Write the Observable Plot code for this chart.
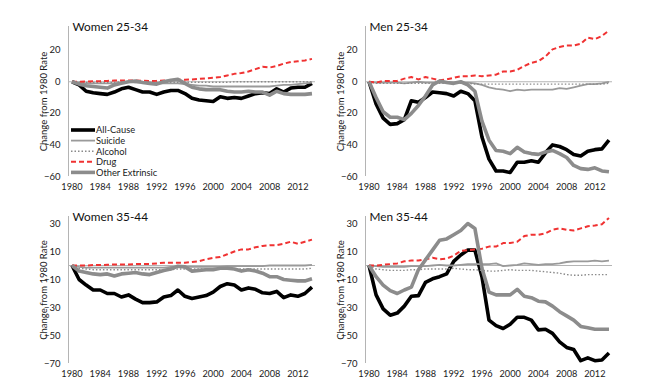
<!DOCTYPE html>
<html><head><meta charset="utf-8">
<script src="https://cdn.jsdelivr.net/npm/d3@7"></script>
<script src="https://cdn.jsdelivr.net/npm/@observablehq/plot@0.6"></script>
<style>
html,body{margin:0;padding:0;background:#fff;}
body{width:649px;height:388px;position:relative;overflow:hidden;font-family:Lato,"Open Sans",sans-serif;}
.panel{position:absolute;}
</style></head><body>
<script>
// ---------- DATA ----------
const years = d3.range(1980, 2015);
const xTickYears = [1980, 1984, 1988, 1992, 1996, 2000, 2004, 2008, 2012];
const seriesNames = ["All-Cause", "Suicide", "Alcohol", "Drug", "Other Extrinsic"];
const panelTitles = ["Women 25-34", "Men 25-34", "Women 35-44", "Men 35-44"];
const yTicks2534 = [-60, -40, -20, 0, 20];
const yTicks3544 = [-70, -50, -30, -10, 10, 30];
const yLabel = "Change from 1980 Rate";

// Women 25-34
const w2534_all = [0,-2,-6,-7,-7.5,-8,-6.5,-4.5,-3.5,-5,-6.5,-6.5,-8,-6.5,-5.5,-5.5,-7.5,-10.5,-11.5,-12,-12.5,-9.5,-10.5,-10,-10.5,-9,-7.5,-7,-7.5,-4.5,-6.5,-4,-3.5,-3.5,-1];
const w2534_suicide = [0,-0.5,-1,-1,-1,-1,-1,-0.5,0,-0.5,-0.5,-1,-1,-1,-1,-1,-1.5,-2,-2.5,-2.5,-3,-3,-3,-3,-3,-3,-3,-3,-3,-2.5,-2,-2,-1.5,-1,-0.5];
const w2534_alcohol = [0,-0.3,-0.5,-0.5,-0.5,-0.5,-0.3,0,0,0,0,-0.3,-0.3,-0.3,-0.3,-0.3,-0.3,-0.3,-0.3,-0.3,-0.3,-0.3,-0.3,0,0,0,0,0,0,0,0,0,0,0,0];
const w2534_drug = [0,0,0.2,0.3,0.4,0.5,0.8,0.8,0.8,0.8,0.6,0.5,0.6,0.8,1,1.2,1.3,1.5,1.8,2.2,2.5,3,4,5,5.5,6.5,8,9.5,9,10,11.5,12.5,13,13.5,14.5];
const w2534_other = [0,-1.5,-2.5,-3,-3.5,-4,-2,-1,0,0.5,-0.5,-1,-1.5,0,1,1.5,-1,-3.5,-4.5,-5,-5,-5,-6,-6.5,-6.5,-6,-6.5,-6.5,-8.5,-6,-7.5,-8,-8,-8,-7.5];

// Men 25-34
const m2534_all = [0,-14,-23,-27,-26.5,-24,-12,-13,-10,-6.5,-7,-7.5,-9,-6,-7.5,-12,-35,-49,-56.5,-56.5,-57.5,-51,-51,-50,-51,-45,-40,-41,-43,-46,-47,-44,-43,-42.5,-37];
const m2534_suicide = [0,-0.5,-0.5,-0.5,-0.5,-1,-0.5,0,-0.5,-0.5,-0.5,-0.5,-0.5,-0.5,-0.5,-1,-2,-3.5,-4.5,-5,-6,-5,-5.5,-5,-5,-5,-5,-4,-4.5,-3.5,-2.5,-1.5,-1.5,-1,0];
const m2534_alcohol = [0,-1,-1,-1,-1,-1,-1,-1,-1,-1,-1,-1,-1,-1,-1,-1.5,-1.5,-1.5,-1.5,-1.5,-1.5,-1.5,-1.5,-1.5,-1.5,-1.5,-1.5,-1.5,-1.5,-1.5,-1.5,-1.5,-1.5,-1.5,-1];
const m2534_drug = [0,-0.5,0.5,0.5,0.5,2,3,1.5,3,2,1,1.5,2.5,3.5,3.5,4,3.5,4,4.5,6.5,6.5,7.5,10,12,13,16,20.5,22,23,23,24,28,27,29,32.5];
const m2534_other = [0,-10,-19,-22.5,-22.5,-24,-20,-15,-9,-2,0.5,-0.5,-1,0,-2,-6,-25,-37,-43.5,-44,-45.5,-41.5,-44.5,-45.5,-46,-44.5,-43.5,-45.5,-48,-53,-55,-55.5,-54.5,-56.5,-57];

// Women 35-44
const w3544_all = [0,-10,-14,-17.5,-17.5,-20,-20,-22.5,-21,-24,-26.5,-26.5,-26,-22.5,-21.5,-17.5,-22,-23.5,-22.5,-21.5,-19,-15,-13,-14,-17.5,-16,-17,-19.5,-20,-18.5,-23,-21,-22,-20,-15.5];
const w3544_suicide = [0,-1,-1.5,-1.5,-1.5,-1.5,-1.5,-1.5,-1.5,-1.5,-1.5,-1.5,-1.5,-1.5,-1,-1,-1,-1,-1,-1,-1,-1,-0.5,-0.5,-0.5,-0.5,-0.5,-0.5,0,0,0,0,0,0,0.5];
const w3544_alcohol = [0,-2,-2.5,-3,-3,-3,-3,-3,-3,-3,-3,-3,-3,-3,-3,-2.5,-2.5,-2.5,-2.5,-2.5,-2.5,-2.5,-2.5,-2.5,-2.5,-2.5,-2.5,-2.5,-2.5,-2.5,-2.5,-2.5,-2.5,-2.5,-2];
const w3544_drug = [0,0,0,0.3,0.3,0.5,0.8,0.8,0.8,1,1,1,1.5,2,2,2,2,2.5,3,4.5,5.5,6,8,10,11.5,11.5,13,14,14.5,14.5,15.5,17,15.5,17,18.5];
const w3544_other = [0,-4,-5,-6,-6.5,-6,-7.5,-6,-5.5,-5,-6,-6.5,-5,-3.5,-2.5,-0.5,-1,-4,-3.5,-3,-3,-2,-2,-2.5,-4,-3,-4,-5.5,-8,-8,-10,-10.5,-11,-11,-9.5];

// Men 35-44
const m3544_all = [0,-21,-31,-35.5,-34,-29,-22,-21.5,-12,-9.5,-8,-6,3,7.5,11,11,-8,-39,-43,-45,-42,-37,-37,-39,-46,-45.5,-48.5,-54.5,-58.5,-60,-68,-66,-68,-67.5,-62.5];
const m3544_suicide = [0,-0.5,-1,-1,-1,-1,-0.5,-0.5,-0.5,0,0.5,0,0,0.5,1,1,1,1,1.5,-0.5,0,0.5,1.5,1,0.5,1,1,1.5,2.5,3,3,3,3.5,3,3.5];
const m3544_alcohol = [0,-2.5,-3,-3.5,-3.5,-3.5,-3,-3,-2.5,-2.5,-2.5,-2.5,-2,-2.5,-3,-3,-3.5,-4,-4,-3.5,-3,-3.5,-3.5,-3.5,-4,-4.5,-5,-5.5,-6.5,-7,-7,-6.5,-6.5,-6.5,-6.5];
const m3544_drug = [0,0,0.5,1,1.5,3,3.5,3.5,4.5,5.5,4.5,5,7,10.5,11,11.5,12,13.5,13.5,16,16,17,21,22,22,23,25.5,26.5,25.5,25,26.5,28,28.5,29.5,34];
const m3544_other = [0,-8,-14,-18,-20,-17.5,-15.5,-3,4,11,18,19,22,25,30,26.5,-2,-19,-21,-21,-21,-17,-22,-23,-25.5,-26,-29,-33,-36,-39,-43.5,-44.5,-45.5,-45.5,-45.5];

// ---------- STYLES ----------
const lineStyles = {
  "All-Cause":       {stroke: "#000000", strokeWidth: 3.6, dash: null},
  "Suicide":         {stroke: "#9a9a9a", strokeWidth: 1.8, dash: null},
  "Alcohol":         {stroke: "#8a8a8a", strokeWidth: 1.4, dash: "1.5,2"},
  "Drug":            {stroke: "#f03232", strokeWidth: 2, dash: "5,3"},
  "Other Extrinsic": {stroke: "#8c8c8c", strokeWidth: 3.6, dash: null}
};
const layout = [
  {left: 0,   top: 0,   domain: [-60, 35], ticks: yTicks2534, mt: 26, mb: 19, legend: true,
   values: [w2534_all, w2534_suicide, w2534_alcohol, w2534_drug, w2534_other]},
  {left: 297, top: 0,   domain: [-60, 35], ticks: yTicks2534, mt: 26, mb: 19,
   values: [m2534_all, m2534_suicide, m2534_alcohol, m2534_drug, m2534_other]},
  {left: 0,   top: 190, domain: [-70, 35], ticks: yTicks3544, mt: 26, mb: 22,
   values: [w3544_all, w3544_suicide, w3544_alcohol, w3544_drug, w3544_other]},
  {left: 297, top: 190, domain: [-70, 35], ticks: yTicks3544, mt: 26, mb: 22,
   values: [m3544_all, m3544_suicide, m3544_alcohol, m3544_drug, m3544_other]}
];
const W = 325, H = 195;
const FONT = "Lato, 'Open Sans', sans-serif";

layout.forEach((p, k) => {
  const rows = [];
  seriesNames.forEach((s, i) => years.forEach((yr, j) => rows.push({series: s, year: yr, value: p.values[i][j]})));
  const lineMarks = seriesNames.map(s => {
    const st = lineStyles[s];
    return Plot.line(rows.filter(r => r.series === s), {
      x: "year", y: "value", stroke: st.stroke, strokeWidth: st.strokeWidth,
      strokeDasharray: st.dash, strokeLinejoin: "round", strokeLinecap: "butt"
    });
  });
  const chart = Plot.plot({
    width: W, height: H,
    marginLeft: 68, marginRight: 10, marginTop: p.mt, marginBottom: p.mb,
    style: {fontFamily: FONT, fontSize: "9.5px", color: "#1a1a1a", background: "transparent", overflow: "visible"},
    x: {domain: [1979.5, 2014.5]},
    y: {domain: p.domain},
    marks: [
      Plot.ruleY([0], {stroke: "#b4b4b4", strokeWidth: 1}),
      Plot.ruleX([1979.5], {stroke: "#b4b4b4", strokeWidth: 1}),
      ...lineMarks,
      Plot.axisX({ticks: xTickYears, tickSize: 0, tickPadding: 7, tickFormat: d => String(d), label: null, fontSize: 9.2}),
      Plot.axisY({ticks: p.ticks, tickSize: 0, tickPadding: 8, label: yLabel, labelAnchor: "center", labelOffset: 28, labelArrow: false, fontSize: 9.5}),
      Plot.text([panelTitles[k]], {frameAnchor: "top-left", dx: 4, dy: 1, lineAnchor: "middle", textAnchor: "start", fontSize: 11.8, fill: "#111"})
    ]
  });
  chart.classList.add("panel");
  chart.style.left = p.left + "px";
  chart.style.top = p.top + "px";
  document.body.appendChild(chart);

  if (p.legend) {
    const ns = "http://www.w3.org/2000/svg";
    const svg = document.createElementNS(ns, "svg");
    svg.setAttribute("width", 120); svg.setAttribute("height", 60);
    svg.setAttribute("class", "panel");
    svg.style.left = (p.left + 70) + "px";
    svg.style.top = (p.top + 124) + "px";
    seriesNames.forEach((s, i) => {
      const st = lineStyles[s];
      const y = 6 + i * 10.6;
      const ln = document.createElementNS(ns, "line");
      ln.setAttribute("x1", 1); ln.setAttribute("x2", 25);
      ln.setAttribute("y1", y); ln.setAttribute("y2", y);
      ln.setAttribute("stroke", st.stroke); ln.setAttribute("stroke-width", st.strokeWidth);
      if (st.dash) ln.setAttribute("stroke-dasharray", st.dash);
      svg.appendChild(ln);
      const t = document.createElementNS(ns, "text");
      t.setAttribute("x", 26); t.setAttribute("y", y + 3.3);
      t.setAttribute("font-family", FONT); t.setAttribute("font-size", "9.3");
      t.setAttribute("fill", "#1a1a1a");
      t.textContent = s;
      svg.appendChild(t);
    });
    document.body.appendChild(svg);
  }
});
</script>
</body></html>
